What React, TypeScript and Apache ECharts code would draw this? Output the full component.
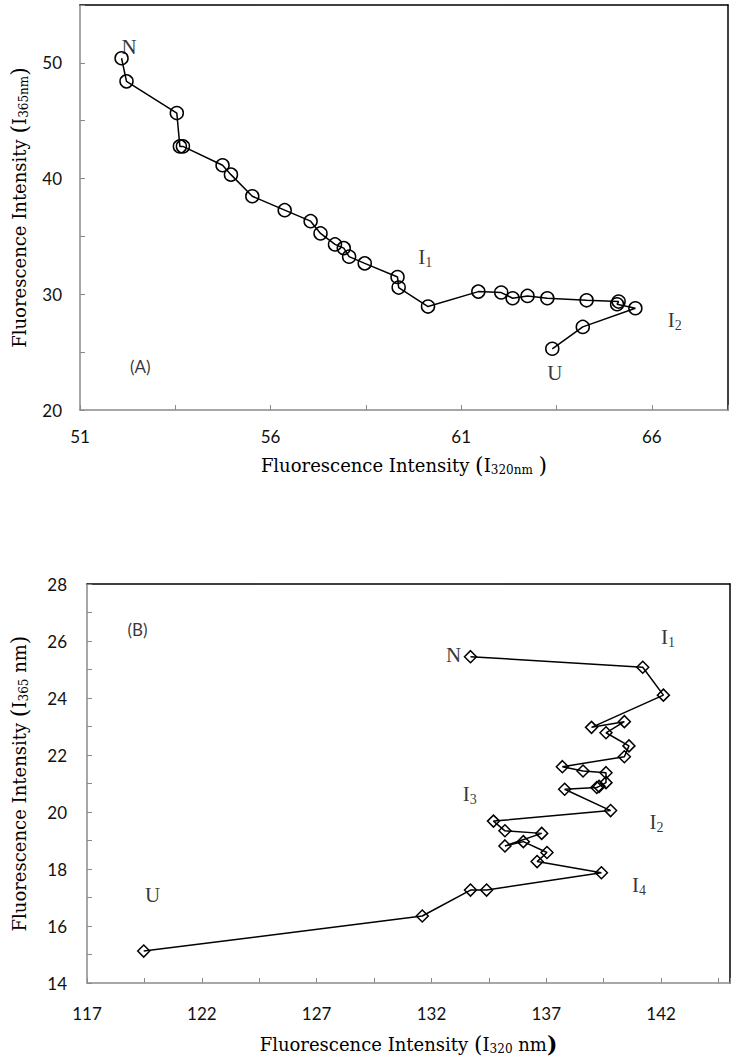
import React, { useEffect, useRef } from "react";
import * as echarts from "echarts";

// ---------- Panel A data (I320 vs I365) ----------
const A_X = [52.09, 52.22, 53.54, 53.62, 53.7, 54.74, 54.96, 55.52, 56.37, 57.05, 57.31, 57.69, 57.92, 58.06, 58.47, 59.33, 59.36, 60.13, 61.45, 62.05, 62.35, 62.74, 63.26, 64.29, 65.13, 65.09, 65.57, 64.19, 63.39];
const A_Y = [50.4, 48.4, 45.66, 42.78, 42.78, 41.15, 40.34, 38.47, 37.27, 36.32, 35.26, 34.31, 33.99, 33.25, 32.67, 31.49, 30.58, 28.94, 30.23, 30.15, 29.66, 29.86, 29.66, 29.48, 29.37, 29.14, 28.79, 27.18, 25.29];
const A_X_LABELS = [51, 56, 61, 66];
const A_Y_LABELS = [20, 30, 40, 50];
const A_NOTE_TEXT = ["N", "I1", "I2", "U", "(A)"];
const A_NOTE_X = [52.29, 60.06, 66.6, 63.46, 52.58];
const A_NOTE_Y = [51.4, 33.25, 27.8, 23.2, 23.8];

// ---------- Panel B data ----------
const B_X = [133.7, 141.2, 142.1, 138.97, 140.4, 139.6, 140.6, 140.4, 137.7, 138.6, 139.6, 139.6, 139.3, 139.2, 137.8, 139.8, 134.7, 135.2, 136.8, 135.2, 136.0, 137.03, 136.6, 139.4, 134.4, 133.7, 131.6, 119.47];
const B_Y = [25.45, 25.08, 24.1, 22.97, 23.17, 22.78, 22.32, 21.94, 21.59, 21.44, 21.38, 21.03, 20.9, 20.86, 20.8, 20.05, 19.68, 19.34, 19.25, 18.81, 18.96, 18.58, 18.26, 17.87, 17.26, 17.26, 16.35, 15.12];
const B_X_LABELS = [117, 122, 127, 132, 137, 142];
const B_Y_LABELS = [14, 16, 18, 20, 22, 24, 26, 28];
const B_NOTE_TEXT = ["N", "I1", "I3", "I2", "I4", "U", "(B)"];
const B_NOTE_X = [132.96, 142.3, 133.67, 141.8, 141.04, 119.86, 119.2];
const B_NOTE_Y = [25.5, 26.15, 20.63, 19.65, 17.44, 17.09, 26.4];

const SERIF = "'Liberation Serif', 'DejaVu Serif', serif";
const TSERIF = "'DejaVu Serif', 'Liberation Serif', serif";
const SANS = "Lato, 'Open Sans', 'Noto Sans', sans-serif";
const GRAY = "#8a8a8a";

const pts = (xs: number[], ys: number[]) => xs.map((x, i) => [x, ys[i]]);

const noteFmt = (t: string) => {
  const m = t.match(/^I(\d)$/);
  if (m) return `{a|I}{s|${m[1]}}`;
  if (t.startsWith("(")) return `{p|${t}}`;
  return `{a|${t}}`;
};

const noteRich = {
  a: { fontFamily: SERIF, fontSize: 21, color: "#000" },
  s: { fontFamily: SERIF, fontSize: 14, color: "#000", padding: [11, 0, 0, 0] },
  p: { fontFamily: SANS, fontSize: 17, color: "#000" },
};

const titleRich = {
  a: { fontFamily: TSERIF, fontSize: 18, color: "#000" },
  b: { fontFamily: TSERIF, fontSize: 22, color: "#000" },
  bb: { fontFamily: TSERIF, fontSize: 22, color: "#000", fontWeight: "bold" },
  s: { fontFamily: TSERIF, fontSize: 12, color: "#000", padding: [10, 0, 0, 0] },
};

const hasLabel = (labels: number[]) => (v: number) =>
  labels.some((l) => Math.abs(l - v) < 1e-6) ? String(Math.round(v)) : "";

function mainAxis(dim: "x" | "y", gridIndex: number, min: number, max: number, interval: number, labels: number[], name: string, nameGap: number, margin: number) {
  return {
    type: "value",
    gridIndex,
    min,
    max,
    interval,
    position: dim === "x" ? "bottom" : "left",
    axisLine: { show: true, onZero: false, lineStyle: { color: GRAY, width: 1.5 } },
    axisTick: { show: true, inside: true, length: 5, lineStyle: { color: GRAY, width: 1 } },
    axisLabel: { show: true, margin, fontFamily: SANS, fontSize: 17, color: "#111", formatter: hasLabel(labels), showMinLabel: true, showMaxLabel: true },
    splitLine: { show: false },
    name,
    nameLocation: "middle",
    nameGap,
    nameRotate: dim === "y" ? 90 : 0,
    nameTextStyle: { rich: titleRich },
  };
}

function borderAxis(dim: "x" | "y", gridIndex: number, min: number, max: number) {
  return {
    type: "value",
    gridIndex,
    min,
    max,
    position: dim === "x" ? "top" : "right",
    axisLine: { show: true, onZero: false, lineStyle: { color: "#000", width: 1.5 } },
    axisTick: { show: false },
    axisLabel: { show: false },
    splitLine: { show: false },
  };
}

function lineSeries(xi: number, yi: number, data: number[][], symbol: string, size: number | number[]) {
  return {
    type: "line",
    xAxisIndex: xi,
    yAxisIndex: yi,
    data,
    symbol,
    symbolSize: size,
    showAllSymbol: true,
    lineStyle: { color: "#000", width: 1.5 },
    itemStyle: { color: "rgba(0,0,0,0)", borderColor: "#000", borderWidth: 1.5 },
    z: 3,
  };
}

function noteSeries(xi: number, yi: number, texts: string[], xs: number[], ys: number[]) {
  return {
    type: "scatter",
    xAxisIndex: xi,
    yAxisIndex: yi,
    data: texts.map((t, i) => ({ value: [xs[i], ys[i]], name: t })),
    symbolSize: 1,
    itemStyle: { color: "rgba(0,0,0,0)" },
    silent: true,
    label: {
      show: true,
      position: "inside",
      formatter: (p: any) => noteFmt(p.name),
      rich: noteRich,
    },
    z: 4,
  };
}

export default function App() {
  const ref = useRef<HTMLDivElement>(null);
  useEffect(() => {
    if (!ref.current) return;
    const chart = echarts.init(ref.current, undefined, { renderer: "svg" });
    chart.setOption({
      animation: false,
      backgroundColor: "#fff",
      grid: [
        { left: 72, top: 5, width: 656, height: 405 },
        { left: 83, top: 584, width: 647, height: 399 },
      ],
      xAxis: [
        mainAxis("x", 0, 51, 68, 2.5, A_X_LABELS, "{a|Fluorescence Intensity }{b|(}{a|I}{s|320nm}{a| }{b|)}", 44, 18),
        borderAxis("x", 0, 51, 68),
        mainAxis("x", 1, 117, 145, 2.5, B_X_LABELS, "{a|Fluorescence Intensity }{b|(}{a|I}{s|320}{a| nm}{bb|)}", 50, 22),
        borderAxis("x", 1, 117, 145),
      ],
      yAxis: [
        mainAxis("y", 0, 20, 55, 5, A_Y_LABELS, "{a|Fluorescence Intensity }{b|(}{a|I}{s|365nm}{b|)}", 50, 18),
        borderAxis("y", 0, 20, 55),
        mainAxis("y", 1, 14, 28, 1, B_Y_LABELS, "{a|Fluorescence Intensity }{b|(}{a|I}{s|365}{a| nm}{b|)}", 57, 20),
        borderAxis("y", 1, 14, 28),
      ],
      series: [
        lineSeries(0, 0, pts(A_X, A_Y), "circle", 13),
        noteSeries(0, 0, A_NOTE_TEXT, A_NOTE_X, A_NOTE_Y),
        lineSeries(2, 2, pts(B_X, B_Y), "diamond", [12, 12]),
        noteSeries(2, 2, B_NOTE_TEXT, B_NOTE_X, B_NOTE_Y),
      ],
    });
    return () => chart.dispose();
  }, []);
  return <div ref={ref} style={{ position: "absolute", left: 0, top: 0, width: 739, height: 1062 }} />;
}
